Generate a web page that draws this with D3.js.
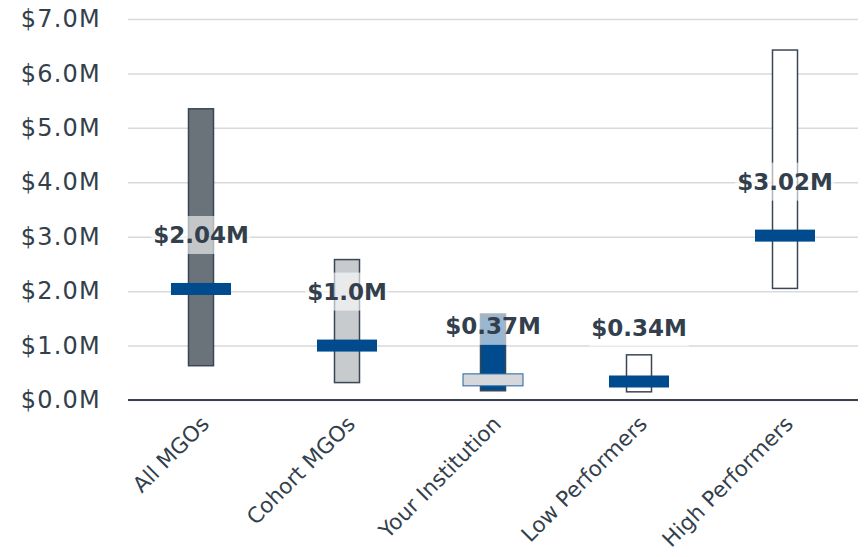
<!DOCTYPE html>
<html>
<head>
<meta charset="utf-8">
<script src="https://cdn.jsdelivr.net/npm/d3@7"></script>
<style>
  html, body { margin: 0; padding: 0; background: #ffffff; }
  svg { display: block; font-family: "DejaVu Sans", Verdana, sans-serif; }
</style>
</head>
<body>
<svg id="chart" width="864" height="557"></svg>
<script>
// Gift range per group, in millions of dollars
const categories = ["All MGOs", "Cohort MGOs", "Your Institution", "Low Performers", "High Performers"];
const lows = [0.63, 0.32, 0.17, 0.15, 2.05];
const highs = [5.35, 2.58, 1.58, 0.83, 6.43];
const medians = [2.04, 1.0, 0.37, 0.34, 3.02];
const medianLabels = ["$2.04M", "$1.0M", "$0.37M", "$0.34M", "$3.02M"];
const yTicks = [0, 1, 2, 3, 4, 5, 6, 7];

const rangeFill = { "All MGOs": "#6b737a", "Cohort MGOs": "#c8cbce", "Your Institution": "#004b8d", "Low Performers": "#ffffff", "High Performers": "#ffffff" };
const markFill = { "Your Institution": "#d5d7da" };
const blue = "#004b8d";
const ink = "#333f4c";

const svg = d3.select("#chart");
const margin = { left: 128, right: 6, top: 19, bottom: 157 };
const W = 864, H = 557;

const x = d3.scaleBand().domain(categories).range([margin.left, W - margin.right]).padding(0);
const y = d3.scaleLinear().domain([0, 7]).range([H - margin.bottom, margin.top]);

const rows = categories.map((c, i) => ({ c, lo: lows[i], hi: highs[i], med: medians[i], label: medianLabels[i] }));

// horizontal gridlines and y tick labels
const yAxis = d3.axisLeft(y).tickValues(yTicks).tickSize(-(W - margin.right - margin.left))
  .tickFormat(d => "$" + d.toFixed(1) + "M").tickPadding(27);
const gy = svg.append("g").attr("transform", `translate(${margin.left},0)`).call(yAxis);
gy.select(".domain").remove();
gy.selectAll(".tick line").attr("stroke", "#d9d9d9").attr("stroke-width", 1.5);
gy.selectAll(".tick text").attr("fill", ink).attr("font-size", 24)
  .attr("letter-spacing", 1.2)
  .attr("font-family", "DejaVu Sans, Verdana, sans-serif");

// baseline
svg.append("line")
  .attr("x1", margin.left).attr("x2", W - margin.right)
  .attr("y1", y(0)).attr("y2", y(0))
  .attr("stroke", "#3a4450").attr("stroke-width", 2);

// category labels
const xAxis = d3.axisBottom(x).tickSize(0).tickPadding(0);
const gx = svg.append("g").attr("transform", `translate(0,${y(0)})`).call(xAxis);
gx.select(".domain").remove();
gx.selectAll(".tick text")
  .attr("fill", ink).attr("font-size", 21.5).attr("font-family", "DejaVu Sans, Verdana, sans-serif")
  .attr("text-anchor", "end")
  .attr("transform", "translate(4,20) rotate(-45)")
  .attr("dy", "0.35em");

const barW = 25, markW = 60, markH = 12;

// low-high range bars
svg.append("g").selectAll("rect").data(rows).join("rect")
  .attr("x", d => x(d.c) + x.bandwidth() / 2 - barW / 2)
  .attr("width", barW)
  .attr("y", d => y(d.hi))
  .attr("height", d => y(d.lo) - y(d.hi))
  .attr("fill", d => rangeFill[d.c])
  .attr("stroke", "#3b4654").attr("stroke-width", 1.5);

// median value labels on a soft white backing
const lg = svg.append("g").selectAll("g").data(rows).join("g")
  .attr("transform", d => `translate(${x(d.c) + x.bandwidth() / 2},${y(d.med) - 54})`);
lg.append("text")
  .attr("text-anchor", "middle").attr("dy", "0.36em")
  .attr("font-size", 23).attr("font-weight", "bold").attr("fill", ink)
  .text(d => d.label);
lg.each(function () {
  const g = d3.select(this);
  const b = g.select("text").node().getBBox();
  g.insert("rect", "text")
    .attr("x", b.x - 2).attr("width", b.width + 4)
    .attr("y", -19).attr("height", 38)
    .attr("fill", "#ffffff").attr("fill-opacity", 0.6);
});

// median markers
svg.append("g").selectAll("rect").data(rows).join("rect")
  .attr("x", d => x(d.c) + x.bandwidth() / 2 - markW / 2)
  .attr("width", markW)
  .attr("y", d => y(d.med) - markH / 2)
  .attr("height", markH)
  .attr("fill", d => markFill[d.c] || blue)
  .attr("stroke", d => markFill[d.c] ? "#1f62a3" : "none")
  .attr("stroke-width", 1);
</script>
</body>
</html>
